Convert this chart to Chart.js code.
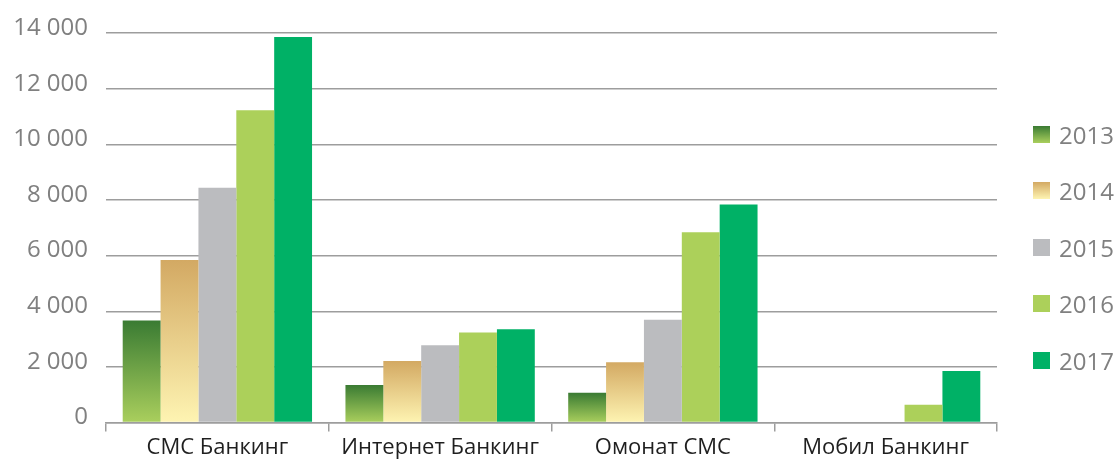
<!DOCTYPE html>
<html>
<head>
<meta charset="utf-8">
<script src="https://cdn.jsdelivr.net/npm/chart.js@4"></script>
<style>
  body { margin: 0; background: #fff; }
  #wrap { position: relative; width: 1118px; height: 464px; }
  #legend { position: absolute; left: 1033px; top: 106px; font-family: "Open Sans", sans-serif; font-size: 24px; color: #808080; }
  #legend div { height: 56.5px; display: flex; align-items: center; }
  #legend span.box { width: 17px; height: 17px; margin-right: 9px; display: inline-block; }
</style>
</head>
<body>
<div id="wrap">
  <canvas id="myChart" width="1118" height="464"></canvas>
  <div id="legend"></div>
</div>
<script>
const categories = ["СМС Банкинг", "Интернет Банкинг", "Омонат СМС", "Мобил Банкинг"];
const years = ["2013", "2014", "2015", "2016", "2017"];

const values2013 = [3670, 1350, 1070, 0];
const values2014 = [5840, 2210, 2170, 0];
const values2015 = [8440, 2780, 3700, 0];
const values2016 = [11220, 3240, 6840, 640];
const values2017 = [13860, 3350, 7840, 1850];

const yTicks = [0, 2000, 4000, 6000, 8000, 10000, 12000, 14000];

// colours: [top, bottom] for gradient bars, a single colour for flat ones
const colours = [
  ["#3a7b33", "#aacf5d"],
  ["#d3a963", "#fef4b2"],
  "#bbbcbf",
  "#acd05a",
  "#00b166",
];

function barFill(colour) {
  if (typeof colour === "string") return colour;
  return function (ctx) {
    const chart = ctx.chart;
    if (!chart.chartArea || !chart.scales.y || ctx.parsed == null) return colour[0];
    const y = chart.scales.y;
    const top = y.getPixelForValue(ctx.parsed.y);
    const bottom = y.getPixelForValue(0);
    if (bottom - top < 1) return colour[0];
    const g = chart.ctx.createLinearGradient(0, top, 0, bottom);
    g.addColorStop(0, colour[0]);
    g.addColorStop(1, colour[1]);
    return g;
  };
}

const seriesValues = [values2013, values2014, values2015, values2016, values2017];

const data = {
  labels: categories,
  datasets: years.map((year, i) => ({
    label: year,
    data: seriesValues[i],
    backgroundColor: barFill(colours[i]),
    borderWidth: 0,
    categoryPercentage: 0.85,
    barPercentage: 1,
  })),
};

function spaced(v) {
  return String(v).replace(/\B(?=(\d{3})+(?!\d))/g, " ");
}

const config = {
  type: "bar",
  data: data,
  options: {
    responsive: false,
    devicePixelRatio: 1,
    animation: false,
    layout: { padding: { left: 0, right: 121, top: 33, bottom: 0 } },
    plugins: {
      legend: { display: false },
      tooltip: { enabled: false },
    },
    scales: {
      x: {
        grid: { offset: true, drawOnChartArea: false, color: "#9d9d9d", lineWidth: 1.5, tickLength: 9 },
        border: { display: true, color: "#9d9d9d", width: 1.5 },
        ticks: {
          color: "#1f1f1f",
          padding: 3,
          maxRotation: 0,
          minRotation: 0,
          autoSkip: false,
          font: { family: "Open Sans", size: 22 },
        },
      },
      y: {
        min: 0,
        max: 14000,
        afterBuildTicks: (axis) => { axis.ticks = yTicks.map((v) => ({ value: v })); },
        afterFit: (axis) => { axis.width = 106; },
        grid: { color: "#9d9d9d", lineWidth: 1.5, drawTicks: false },
        border: { display: false },
        ticks: {
          color: "#808080",
          padding: 18,
          labelOffset: -5,
          font: { family: "Open Sans", size: 24 },
          callback: (v) => spaced(v),
        },
      },
    },
  },
};

const chart = new Chart(document.getElementById("myChart"), config);

// legend on the right
const legend = document.getElementById("legend");
years.forEach((year, i) => {
  const c = colours[i];
  const fill = typeof c === "string" ? c : "linear-gradient(" + c[0] + "," + c[1] + ")";
  const row = document.createElement("div");
  row.innerHTML = '<span class="box" style="background:' + fill + '"></span>' + year;
  legend.appendChild(row);
});
</script>
</body>
</html>
